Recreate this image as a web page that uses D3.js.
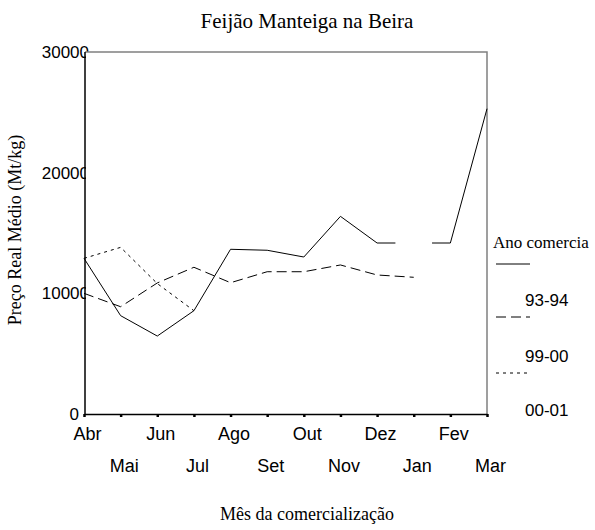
<!DOCTYPE html>
<html>
<head>
<meta charset="utf-8">
<script src="https://cdn.jsdelivr.net/npm/d3@7"></script>
<style>
  body { margin: 0; background: #fff; }
  svg { display: block; }
</style>
</head>
<body>
<svg id="canvas" width="595" height="530"></svg>
<script>
const months = ["Abr", "Mai", "Jun", "Jul", "Ago", "Set", "Out", "Nov", "Dez", "Jan", "Fev", "Mar"];
const seriesNames = ["93-94", "99-00", "00-01"];
const preco9394 = [12900, 8150, 6460, 8560, 13650, 13570, 13010, 16380, 14170, null, 14170, 25300];
const preco9900 = [10000, 8890, 10860, 12160, 10880, 11790, 11790, 12350, 11520, 11330, null, null];
const preco0001 = [12900, 13810, 10810, 8560, null, null, null, null, null, null, null, null];
const yTicks = [0, 10000, 20000, 30000];
const dashes = [null, "10,5", "3,4"];

function chart() {
  const svg = d3.select("#canvas");
  const left = 85, right = 487, top = 52, bottom = 414;
  const serif = "'Liberation Serif', 'Times New Roman', serif";
  const sans = "'Liberation Sans', Arial, sans-serif";

  const x = d3.scalePoint().domain(months).range([left - 1, right]);
  const y = d3.scaleLinear().domain([0, 30000]).range([bottom, top]);

  // title
  svg.append("text")
    .attr("x", 307).attr("y", 28)
    .attr("text-anchor", "middle")
    .style("font-family", serif).style("font-size", "21px")
    .text("Feijão Manteiga na Beira");

  // y tick labels first, plot area covers their right edge
  const yAxis = svg.append("g")
    .attr("transform", `translate(${left},0)`)
    .call(d3.axisLeft(y).tickValues(yTicks).tickSize(0).tickFormat(d3.format("d")));
  yAxis.select(".domain").remove();
  yAxis.selectAll("text")
    .attr("x", (d) => (d === 0 ? -6 : 4))
    .style("font-family", sans).style("font-size", "17px").attr("fill", "#000");

  svg.append("rect")
    .attr("x", left + 1).attr("y", top)
    .attr("width", right - left - 1).attr("height", bottom - top)
    .attr("fill", "#fff");

  // frame: gray top/right, black axes
  svg.append("path")
    .attr("d", `M${left},${top}H${right}V${bottom}`)
    .attr("fill", "none").attr("stroke", "#808080").attr("stroke-width", 1.5);
  svg.append("line")
    .attr("x1", left).attr("x2", left).attr("y1", top).attr("y2", bottom)
    .attr("stroke", "#000").attr("stroke-width", 1.5);

  const xAxis = svg.append("g")
    .attr("transform", `translate(0,${bottom})`)
    .call(d3.axisBottom(x).tickSize(3).tickSizeOuter(0));
  xAxis.select(".domain").attr("stroke", "#000").attr("stroke-width", 1.5);
  xAxis.selectAll(".tick line").attr("stroke-width", 2.5);
  xAxis.selectAll("text")
    .attr("y", (d, i) => (i % 2 === 0 ? 26 : 58))
    .attr("dy", null)
    .attr("dx", 3)
    .style("font-family", sans).style("font-size", "18px").attr("fill", "#000");

  // lines
  const allSeries = [preco9394, preco9900, preco0001];
  const line = d3.line()
    .defined((d) => d != null)
    .x((d, i) => x(months[i]))
    .y((d) => y(d));

  const linesG = svg.append("g").attr("fill", "none").attr("stroke", "#000").attr("stroke-width", 1);
  allSeries.forEach((vals, s) => {
    linesG.append("path")
      .attr("d", line(vals))
      .attr("stroke-dasharray", dashes[s]);
    // stubs toward a single missing month
    vals.forEach((v, i) => {
      if (v != null || i === 0 || i === vals.length - 1) return;
      const a = vals[i - 1], b = vals[i + 1];
      if (a == null || b == null) return;
      const mx = x(months[i]), my = y((a + b) / 2);
      [[i - 1, a], [i + 1, b]].forEach(([j, w]) => {
        const px = x(months[j]), py = y(w);
        linesG.append("line")
          .attr("x1", px).attr("y1", py)
          .attr("x2", px + (mx - px) * 0.5).attr("y2", py + (my - py) * 0.5)
          .attr("stroke-dasharray", dashes[s]);
      });
    });
  });

  // axis titles
  svg.append("text")
    .attr("transform", `translate(21,230) rotate(-90)`)
    .attr("text-anchor", "middle")
    .style("font-family", serif).style("font-size", "18px")
    .text("Preço Real Médio (Mt/kg)");
  svg.append("text")
    .attr("x", 307).attr("y", 520)
    .attr("text-anchor", "middle")
    .style("font-family", serif).style("font-size", "18px")
    .text("Mês da comercialização");

  // legend
  const legend = svg.append("g");
  legend.append("text")
    .attr("x", 493).attr("y", 248)
    .style("font-family", serif).style("font-size", "17px")
    .text("Ano comercia");
  const rows = [264, 317, 373];
  const labels = [300, 356, 410];
  seriesNames.forEach((name, s) => {
    legend.append("line")
      .attr("x1", 496).attr("x2", 530)
      .attr("y1", rows[s]).attr("y2", rows[s])
      .attr("stroke", "#000").attr("stroke-width", 1)
      .attr("stroke-dasharray", dashes[s]);
    legend.append("text")
      .attr("x", 525).attr("y", labels[s])
      .attr("dy", "0.35em")
      .style("font-family", sans).style("font-size", "17px")
      .text(name);
  });
}

window.addEventListener("DOMContentLoaded", () => chart());
</script>
</body>
</html>
